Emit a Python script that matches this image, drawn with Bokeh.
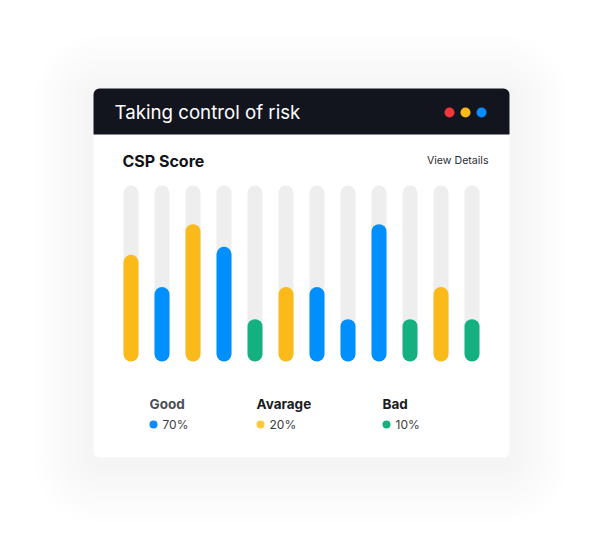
from bokeh.plotting import figure
from bokeh.models import Range1d, BoxAnnotation, ColumnDataSource
from bokeh.core.properties import value
from bokeh.embed import file_html
from bokeh.resources import INLINE

# ---------------- data ----------------
bar_index = list(range(12))
bar_values = [57, 37, 76, 62, 17, 37, 37, 17, 76, 17, 37, 17]
bar_category = ["Avarage", "Good", "Avarage", "Good", "Bad", "Avarage",
                "Good", "Good", "Good", "Bad", "Avarage", "Bad"]
legend_labels = ["Good", "Avarage", "Bad"]
legend_values = ["70%", "20%", "10%"]
category_colors = {"Good": "#008FFF", "Avarage": "#FABA1A", "Bad": "#15B07F"}
legend_dot_colors = ["#0A8CFF", "#FFC93A", "#18B07F"]
title_text = "Taking control of risk"
subtitle_text = "CSP Score"
link_text = "View Details"
window_dot_colors = ["#F0383A", "#FBBA18", "#0A8CFF"]

# ---------------- layout ----------------
W, H = 602, 555
card_l, card_r, card_t, card_b = 93, 509, 88, 457
header_b = 134
track_top, track_bottom = 192.5, 353.5   # segment endpoints (round caps add 7.5px)
bar_x0, bar_step, bar_w = 130.5, 31, 15

p = figure(width=W, height=H, output_backend="svg", toolbar_location=None,
           x_range=Range1d(0, W), y_range=Range1d(H, 0), min_border=0,
           background_fill_color="white", border_fill_color="white")
p.axis.visible = False
p.grid.visible = False
p.outline_line_color = None

# soft shadow
for k in range(10):
    g = 6 * (k + 1)
    p.add_layout(BoxAnnotation(left=card_l - g, right=card_r + g, top=card_t - g + 6,
                               bottom=card_b + g + 6, fill_color="black", fill_alpha=0.0025,
                               line_color=None, border_radius=8 + g, level="underlay"))

# card
p.add_layout(BoxAnnotation(left=card_l, right=card_r, top=card_t, bottom=card_b,
                           fill_color="white", fill_alpha=1, line_color=None,
                           border_radius=6, level="underlay"))
# header
p.add_layout(BoxAnnotation(left=card_l, right=card_r, top=card_t, bottom=header_b,
                           fill_color="#12151E", fill_alpha=1, line_color=None,
                           border_radius=(6, 6, 0, 0), level="underlay"))

# header texts and dots
p.text(x=[114], y=[112], text=[title_text], text_font=value("Inter"),
       text_font_size="18.7px", text_color="white", text_baseline="middle",
       text_align="left", text_font_style="normal")
p.scatter(x=[449, 465, 481], y=[112, 112, 112], size=10, color=window_dot_colors,
          line_color=None)

p.text(x=[122], y=[160], text=[subtitle_text], text_font=value("Inter"),
       text_font_size="16px", text_color="#111318", text_baseline="middle",
       text_align="left", text_font_style="bold")
p.text(x=[488], y=[160], text=[link_text], text_font=value("Inter"),
       text_font_size="10.6px", text_color="#2A2D33", text_baseline="middle",
       text_align="right")

# bars on their own scales
L = W / bar_step
p.extra_x_ranges = {"bars": Range1d(-bar_x0 / bar_step, -bar_x0 / bar_step + L)}
f0 = 1 - track_bottom / H
f100 = 1 - track_top / H
span = 100 / (f100 - f0)
ys = -f0 * span
p.extra_y_ranges = {"vals": Range1d(ys, ys + span)}

src = ColumnDataSource(dict(x=bar_index, v=bar_values, zero=[0] * 12, full=[100] * 12,
                            c=[category_colors[c] for c in bar_category]))
p.segment(x0="x", y0="zero", x1="x", y1="full", source=src, line_width=bar_w,
          line_color="#EEEEEE", line_cap="round", x_range_name="bars", y_range_name="vals")
p.segment(x0="x", y0="zero", x1="x", y1="v", source=src, line_width=bar_w,
          line_color="c", line_cap="round", x_range_name="bars", y_range_name="vals")

# legend
leg_x = [149, 256, 382]
label_colors = ["#4A4E56", "#1A1C22", "#1A1C22"]
p.text(x=leg_x, y=[403] * 3, text=legend_labels, text_font=value("Inter"),
       text_font_size="13.5px", text_color=label_colors, text_baseline="middle",
       text_align="left", text_font_style="bold")
p.scatter(x=[x + 4 for x in leg_x], y=[424] * 3, size=8, color=legend_dot_colors,
          line_color=None)
p.text(x=[x + 13 for x in leg_x], y=[424] * 3, text=legend_values, text_font=value("Inter"),
       text_font_size="12px", text_color="#3A3D44", text_baseline="middle",
       text_align="left")

open("out.html", "w").write(file_html(p, INLINE))
